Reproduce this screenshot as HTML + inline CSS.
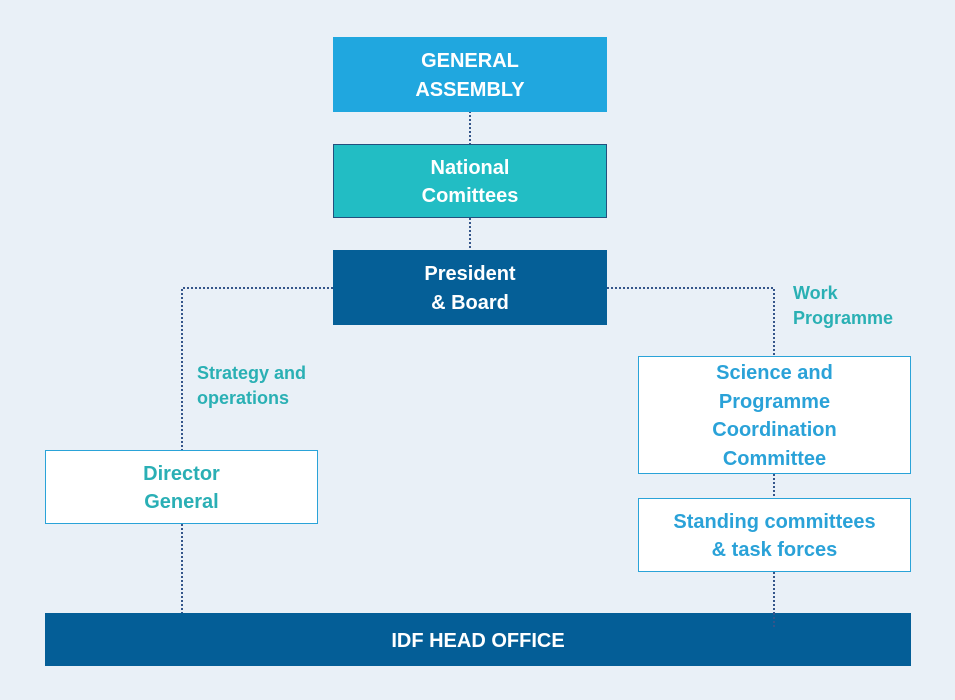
<!DOCTYPE html>
<html>
<head>
<meta charset="utf-8">
<style>
  html, body { margin:0; padding:0; }
  body { width:955px; height:700px; background:#e9f0f7; position:relative; overflow:hidden;
         font-family:"Liberation Sans", Arial, sans-serif; font-weight:bold; }
  .box { position:absolute; box-sizing:border-box; display:flex; align-items:center; justify-content:center;
         text-align:center; font-size:20px; line-height:28.5px; padding-top:2px; }
  .lbl { position:absolute; font-size:18px; line-height:25px; color:#2ab0b4; }
  svg { position:absolute; left:0; top:0; }
</style>
</head>
<body>
<svg width="955" height="700">
  <g stroke="#34558a" stroke-width="2" stroke-dasharray="2 2" fill="none">
    <line x1="470" y1="111" x2="470" y2="144"/>
    <line x1="470" y1="218" x2="470" y2="250"/>
    <polyline points="333,288 182,288 182,450"/>
    <line x1="182" y1="524" x2="182" y2="613"/>
    <polyline points="607,288 774,288 774,356"/>
    <line x1="774" y1="474" x2="774" y2="498"/>
    <line x1="774" y1="572" x2="774" y2="628"/>
  </g>
</svg>

<div class="box" style="left:333px;top:37px;width:274px;height:75px;background:#20a7df;color:#fff;">GENERAL<br>ASSEMBLY</div>
<div class="box" style="left:333px;top:144px;width:274px;height:74px;background:#22bdc4;color:#fff;border:1.5px solid #24507e;">National<br>Comittees</div>
<div class="box" style="left:333px;top:250px;width:274px;height:75px;background:#055f97;color:#fff;">President<br>&amp; Board</div>

<div class="box" style="left:45px;top:450px;width:273px;height:74px;background:#fff;color:#2aafb5;border:1.5px solid #2aa3d8;">Director<br>General</div>

<div class="box" style="left:638px;top:356px;width:273px;height:118px;background:#fff;color:#2aa2d8;border:1.5px solid #2aa3d8;">Science and<br>Programme<br>Coordination<br>Committee</div>
<div class="box" style="left:638px;top:498px;width:273px;height:74px;background:#fff;color:#2aa2d8;border:1.5px solid #2aa3d8;">Standing committees<br>&amp; task forces</div>

<div class="box" style="left:45px;top:613px;width:866px;height:53px;background:#045e97;color:#fff;padding-top:3px;">IDF HEAD OFFICE</div>

<svg width="955" height="700" style="pointer-events:none">
  <line x1="774" y1="613" x2="774" y2="628" stroke="#34558a" stroke-width="2" stroke-dasharray="2 2"/>
</svg>

<div class="lbl" style="left:197px;top:361px;">Strategy and<br>operations</div>
<div class="lbl" style="left:793px;top:281px;">Work<br>Programme</div>
</body>
</html>
